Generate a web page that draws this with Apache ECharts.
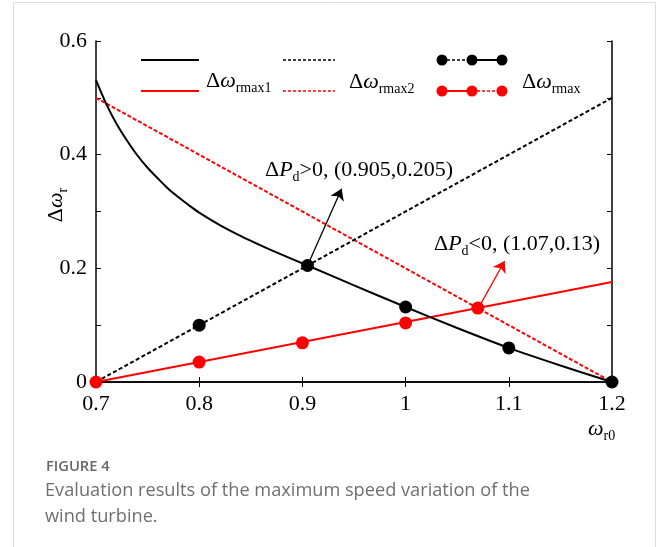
<!DOCTYPE html>
<html lang="en">
<head>
<meta charset="UTF-8">
<title>Figure 4</title>
<script src="https://cdn.jsdelivr.net/npm/echarts@6/dist/echarts.min.js"></script>
<style>
    html, body { margin: 0; padding: 0; background: #fff; }
    #chart { width: 658px; height: 547px; }
</style>
</head>
<body>
<div id="chart"></div>
<script>
    // tick labels
    var xTicks = [0.7, 0.8, 0.9, 1, 1.1, 1.2];
    var yTicks = [0, 0.2, 0.4, 0.6];

    // black solid curve: Δω_rmax1 when ΔPd > 0
    var curveX = [0.7, 0.71, 0.72, 0.73, 0.74, 0.75, 0.76, 0.77, 0.78, 0.79, 0.8, 0.82, 0.84, 0.86, 0.88, 0.905, 0.95, 1.0, 1.05, 1.1, 1.15, 1.2];
    var curveY = [0.531, 0.489, 0.454, 0.425, 0.399, 0.377, 0.358, 0.34, 0.325, 0.311, 0.298, 0.276, 0.257, 0.24, 0.224, 0.205, 0.17, 0.132, 0.095, 0.06, 0.029, 0];

    // straight lines (end points)
    var blackDotX = [0.7, 1.2];
    var blackDotY = [0, 0.5];
    var redSolidX = [0.7, 1.2];
    var redSolidY = [0, 0.176];
    var redDotX = [0.7, 1.2];
    var redDotY = [0.5, 0];

    // Δω_rmax markers
    var blackMarkX = [0.8, 0.905, 1.0, 1.1, 1.2];
    var blackMarkY = [0.1, 0.205, 0.132, 0.06, 0];
    var redMarkX = [0.7, 0.8, 0.9, 1.0, 1.07];
    var redMarkY = [0, 0.035, 0.069, 0.104, 0.13];

    function pairs(xs, ys) {
        var out = [];
        for (var i = 0; i < xs.length; i++) out.push([xs[i], ys[i]]);
        return out;
    }

    var serif = 'Liberation Serif';

    function rich(color) {
        return {
            a: { fontFamily: serif, fontSize: 22, lineHeight: 28, color: color },
            w: { fontFamily: serif, fontSize: 22, fontStyle: 'italic', lineHeight: 28, color: color },
            s: { fontFamily: serif, fontSize: 14, lineHeight: 18, verticalAlign: 'bottom', color: color }
        };
    }

    function tickText(list) {
        return function (v) {
            for (var i = 0; i < list.length; i++) {
                if (Math.abs(list[i] - v) < 1e-6) return String(list[i]);
            }
            return '';
        };
    }

    var chart = echarts.init(document.getElementById('chart'));

    var axisCommon = {
        type: 'value',
        axisLine: { show: true, lineStyle: { color: '#000', width: 1.5 } },
        axisTick: { show: true, inside: true, length: 5, lineStyle: { color: '#000' } },
        splitLine: { show: false }
    };

    var option = {
        backgroundColor: '#fff',
        animation: false,
        grid: { left: 96, right: 46, top: 41, bottom: 165 },
        xAxis: [
            Object.assign({}, axisCommon, {
                min: 0.7, max: 1.2, interval: 0.1,
                axisLabel: { fontFamily: serif, fontSize: 22, color: '#000', margin: 11, formatter: tickText(xTicks) }
            }),
            Object.assign({}, axisCommon, {
                position: 'top', min: 0.7, max: 1.2, interval: 0.1,
                axisLabel: { show: false }
            })
        ],
        yAxis: [
            Object.assign({}, axisCommon, {
                min: 0, max: 0.6, interval: 0.1,
                axisLabel: { fontFamily: serif, fontSize: 22, color: '#000', margin: 9, formatter: tickText(yTicks) }
            }),
            Object.assign({}, axisCommon, {
                position: 'right', min: 0, max: 0.6, interval: 0.1,
                axisLabel: { show: false }
            })
        ],
        series: [
            {
                name: 'rmax2 red', type: 'line', symbol: 'none',
                data: pairs(redDotX, redDotY),
                lineStyle: { color: '#ff0000', width: 2, type: [4, 2] }
            },
            {
                name: 'rmax2 black', type: 'line', symbol: 'none',
                data: pairs(blackDotX, blackDotY),
                lineStyle: { color: '#000', width: 2, type: [4, 2.5] }
            },
            {
                name: 'rmax1 red', type: 'line', symbol: 'none',
                data: pairs(redSolidX, redSolidY),
                lineStyle: { color: '#ff0000', width: 2 }
            },
            {
                name: 'rmax1 black', type: 'line', symbol: 'none', smooth: 0.3,
                data: pairs(curveX, curveY),
                lineStyle: { color: '#000', width: 2 },
                markLine: {
                    silent: true, symbol: ['none', 'arrow'], symbolSize: 11,
                    label: { show: false },
                    data: [
                        [{ coord: [0.905, 0.205], lineStyle: { color: '#000', width: 1.3, type: 'solid' } },
                         { coord: [0.938, 0.34] }],
                        [{ coord: [1.073, 0.138], lineStyle: { color: '#ff0000', width: 1.3, type: 'solid' } },
                         { coord: [1.096, 0.213] }]
                    ]
                }
            },
            {
                name: 'mark black', type: 'scatter', symbol: 'circle', symbolSize: 13,
                data: pairs(blackMarkX, blackMarkY),
                itemStyle: { color: '#000', opacity: 1 }, z: 5
            },
            {
                name: 'mark red', type: 'scatter', symbol: 'circle', symbolSize: 13,
                data: pairs(redMarkX, redMarkY),
                itemStyle: { color: '#ff0000', opacity: 1 }, z: 6
            }
        ],
        graphic: [
            // card border
            { type: 'rect', shape: { x: 13.5, y: 2.5, width: 642, height: 570 },
              style: { fill: 'none', stroke: '#dcdcdc', lineWidth: 1 }, z: -10 },

            // legend, column 1
            { type: 'line', shape: { x1: 141, y1: 60, x2: 199, y2: 60 }, style: { stroke: '#000', lineWidth: 2 } },
            { type: 'line', shape: { x1: 141, y1: 91, x2: 199, y2: 91 }, style: { stroke: '#ff0000', lineWidth: 2 } },
            { type: 'text', x: 206, y: 81, style: {
                text: '{a|Δ}{w|ω}{s|rmax1}', rich: rich('#000'), verticalAlign: 'middle' } },
            // legend, column 2
            { type: 'line', shape: { x1: 283, y1: 60, x2: 335, y2: 60 }, style: { stroke: '#000', lineWidth: 1.5, lineDash: [3, 2] } },
            { type: 'line', shape: { x1: 283, y1: 91, x2: 335, y2: 91 }, style: { stroke: '#ff0000', lineWidth: 1.5, lineDash: [3, 2] } },
            { type: 'text', x: 349, y: 82, style: {
                text: '{a|Δ}{w|ω}{s|rmax2}', rich: rich('#000'), verticalAlign: 'middle' } },
            // legend, column 3
            { type: 'line', shape: { x1: 442, y1: 60, x2: 472, y2: 60 }, style: { stroke: '#000', lineWidth: 1.5, lineDash: [3, 2] } },
            { type: 'line', shape: { x1: 472, y1: 60, x2: 502, y2: 60 }, style: { stroke: '#000', lineWidth: 2 } },
            { type: 'circle', shape: { cx: 442, cy: 60, r: 5.5 }, style: { fill: '#000' } },
            { type: 'circle', shape: { cx: 472, cy: 60, r: 5.5 }, style: { fill: '#000' } },
            { type: 'circle', shape: { cx: 502, cy: 60, r: 5.5 }, style: { fill: '#000' } },
            { type: 'line', shape: { x1: 442, y1: 91, x2: 472, y2: 91 }, style: { stroke: '#ff0000', lineWidth: 2 } },
            { type: 'line', shape: { x1: 472, y1: 91, x2: 502, y2: 91 }, style: { stroke: '#ff0000', lineWidth: 1.5, lineDash: [3, 2] } },
            { type: 'circle', shape: { cx: 442, cy: 91, r: 5.5 }, style: { fill: '#ff0000' } },
            { type: 'circle', shape: { cx: 472, cy: 91, r: 5.5 }, style: { fill: '#ff0000' } },
            { type: 'circle', shape: { cx: 502, cy: 91, r: 5.5 }, style: { fill: '#ff0000' } },
            { type: 'text', x: 522, y: 82, style: {
                text: '{a|Δ}{w|ω}{s|rmax}', rich: rich('#000'), verticalAlign: 'middle' } },

            // annotations
            { type: 'text', x: 265, y: 170, style: {
                text: '{a|Δ}{w|P}{s|d}{a|>0, (0.905,0.205)}', rich: rich('#000'), verticalAlign: 'middle' } },
            { type: 'text', x: 434, y: 244, style: {
                text: '{a|Δ}{w|P}{s|d}{a|<0, (1.07,0.13)}', rich: rich('#ff0000'), verticalAlign: 'middle' } },

            // axis names
            { type: 'text', x: 56, y: 205, rotation: Math.PI / 2, style: {
                text: '{a|Δ}{w|ω}{s|r}', rich: rich('#000'), align: 'center', verticalAlign: 'middle' } },
            { type: 'text', x: 588, y: 429, style: {
                text: '{w|ω}{s|r0}', rich: rich('#000'), verticalAlign: 'middle' } },

            // caption
            { type: 'text', x: 46, y: 467, style: {
                text: 'FIGURE 4', fill: '#666', font: '600 14.7px "Open Sans"', verticalAlign: 'middle' } },
            { type: 'text', x: 45, y: 491, style: {
                text: 'Evaluation results of the maximum speed variation of the',
                fill: '#6f6f6f', font: '18.2px "Open Sans"', verticalAlign: 'middle' } },
            { type: 'text', x: 45, y: 517, style: {
                text: 'wind turbine.', fill: '#6f6f6f', font: '18.2px "Open Sans"', verticalAlign: 'middle' } }
        ]
    };
    chart.setOption(option);
</script>
</body>
</html>
